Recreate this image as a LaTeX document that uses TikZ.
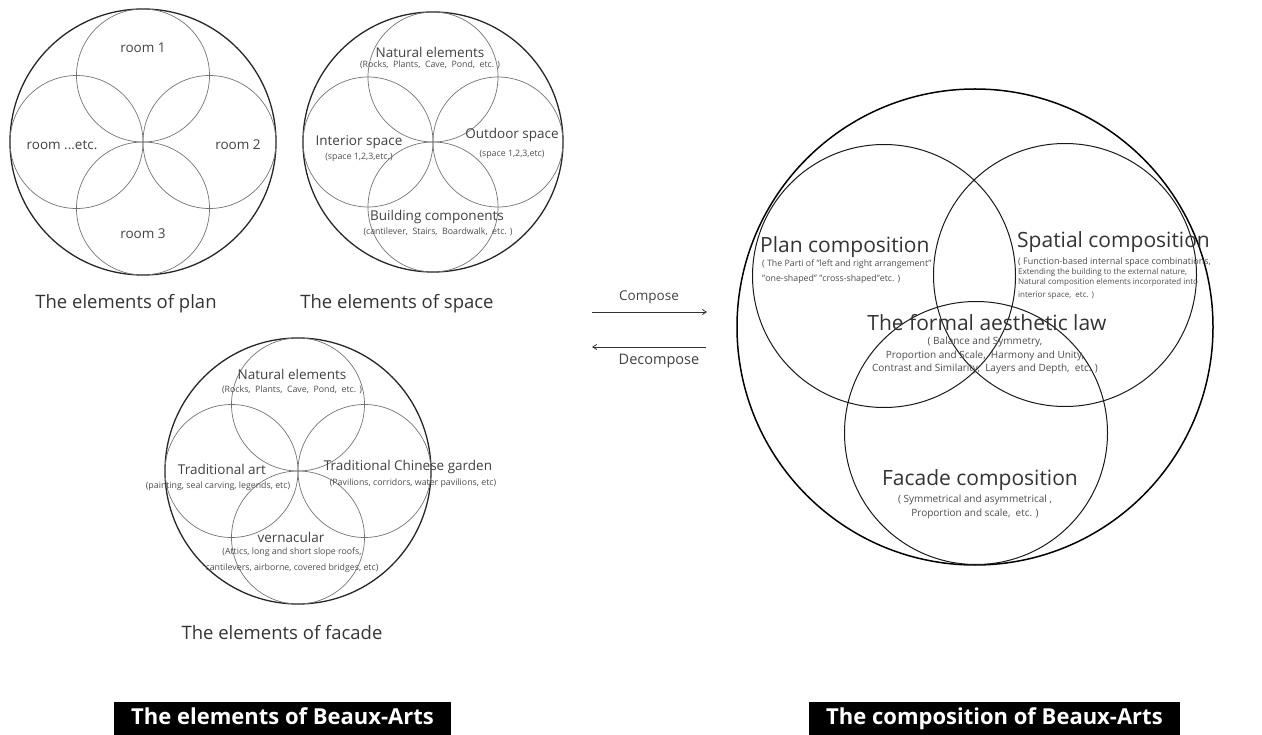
\documentclass[tikz,border=0pt]{standalone}
\usepackage{fontspec}
\setmainfont{Open Sans}
\usetikzlibrary{arrows.meta,calc}
\begin{document}
\begin{tikzpicture}[x=1pt,y=-1pt,
 outer/.style={draw=black!85, line width=1.3pt, circle, inner sep=0pt},
 inr/.style={draw=black!55, line width=0.7pt, circle, inner sep=0pt},
 bigc/.style={draw=black, line width=1.5pt, circle, inner sep=0pt, minimum size=476pt},
 comp/.style={draw=black!90, line width=1pt, circle, inner sep=0pt, minimum size=263pt},
 lbl/.style={font=\fontsize{13.5}{15}\selectfont, text=black!75, inner sep=0pt},
 sub/.style={font=\fontsize{8.8}{16}\selectfont, text=black!70, inner sep=0pt, align=center},
 grpcap/.style={font=\fontsize{18.5}{22}\selectfont, text=black!80, inner sep=0pt},
 head/.style={font=\fontsize{21}{24}\selectfont, text=black!80, inner sep=0pt},
 csub/.style={text=black!70, inner sep=0pt},
 arr/.style={draw=black!80, line width=0.8pt, -{Straight Barb[length=4pt,width=5pt]}},
 banner/.style={fill=black, text=white, font=\bfseries\fontsize{22}{24}\selectfont, inner xsep=17pt, inner ysep=0pt, text height=22pt, text depth=12pt, anchor=north west}
]
\useasboundingbox (0,0) rectangle (1262,735);
% ---- groups of four circles in a circle
\foreach \g/\x/\y/\R in {P/143/142/133, S/433/142/130, F/298/471/133}{
  \node[outer, minimum size=2*\R pt] (\g) at (\x,\y) {};
  \node[inr, minimum size=\R pt] (\g t) at (\x,\y-\R/2) {};
  \node[inr, minimum size=\R pt] (\g r) at (\x+\R/2,\y) {};
  \node[inr, minimum size=\R pt] (\g b) at (\x,\y+\R/2) {};
  \node[inr, minimum size=\R pt] (\g l) at (\x-\R/2,\y) {};
}
% plan labels
\node[lbl] (p1) at (143,48) {room 1};
\node[lbl] (p2) at (238,145) {room 2};
\node[lbl] (p3) at (143,234) {room 3};
\node[lbl] (p4) at (62,145) {room ...etc.};
\node[grpcap] (pc) at (126,304) {The elements of plan};
% space labels
\node[lbl] (s1) at (430,52) {Natural elements};
\node[sub] (s1s) at (430,65) {(Rocks,\ \ Plants,\ \ Cave,\ \ Pond,\ \ etc. )};
\node[lbl] (s2) at (359,142) {Interior space};
\node[sub] (s2s) at (359,157) {(space 1,2,3,etc.)};
\node[lbl] (s3) at (512,135) {Outdoor space};
\node[sub] (s3s) at (512,154) {(space 1,2,3,etc)};
\node[lbl] (s4) at (437,217) {Building components};
\node[sub] (s4s) at (438,232) {(cantilever,\ \ Stairs,\ \ Boardwalk,\ \ etc. )};
\node[grpcap] (sc) at (397,304) {The elements of space};
% facade labels
\node[lbl] (f1) at (292,374) {Natural elements};
\node[sub] (f1s) at (292,390) {(Rocks,\ \ Plants,\ \ Cave,\ \ Pond,\ \ etc. )};
\node[lbl] (f2) at (222,469) {Traditional art};
\node[sub] (f2s) at (218,486) {(painting, seal carving, legends, etc)};
\node[lbl] (f3) at (408,467) {Traditional Chinese garden};
\node[sub] (f3s) at (413,483) {(Pavilions, corridors, water pavilions, etc)};
\node[lbl] (f4) at (291,537) {vernacular};
\node[sub] (f4s) at (292,560) {(Attics, long and short slope roofs,\\cantilevers, airborne, covered bridges, etc)};
\node[grpcap] (fc) at (282,633) {The elements of facade};
% arrows
\coordinate (a1) at (592,312);
\coordinate (a2) at (707,312);
\coordinate (b1) at (706,347);
\coordinate (b2) at (592,347);
\draw[arr] (a1) -- (a2);
\draw[arr] (b1) -- (b2);
\node[lbl, font=\fontsize{13.5}{15}\selectfont] (cmp) at (649,297) {Compose};
\node[lbl, font=\fontsize{14.5}{16}\selectfont] (dcmp) at (659,361) {Decompose};
% composition
\node[bigc] (C) at (975,327) {};
\node[comp] (Cp) at (884,276) {};
\node[comp] (Cs) at (1065,275) {};
\node[comp] (Cf) at (976,433) {};
\node[head, anchor=west] (hp) at (760,247) {Plan composition};
\node[csub, anchor=north west, align=left, font=\fontsize{8.8}{15}\selectfont] (hps) at (762,260) {( The Parti of "left and right arrangement"\\"one-shaped" "cross-shaped"etc. )};
\node[head, anchor=west] (hs) at (1017,242) {Spatial composition};
\node[csub, anchor=north west, align=left, font=\fontsize{8}{10}\selectfont] (hss) at (1018,257) {{\fontsize{9}{10}\selectfont ( Function-based internal space combinations,}\\[0pt]Extending the building to the external nature,\\[0pt]Natural composition elements incorporated into\\[3pt]interior space,\ \ etc. )};
\node[head] (hl) at (987,323) {The formal aesthetic law};
\node[csub, align=center, anchor=north, font=\fontsize{10}{13.5}\selectfont] (hls) at (985,337) {( Balance and Symmetry,\\Proportion and Scale,\ \ Harmony and Unity,\\Contrast and Similarity,\ \ Layers and Depth,\ \ etc. )};
\node[head] (hf) at (980,480) {Facade composition};
\node[csub, align=center, anchor=north, font=\fontsize{10}{14}\selectfont] (hfs) at (975,495) {( Symmetrical and asymmetrical ,\\Proportion and scale,\ \ etc. )};
% banners
\node[banner] (bl) at (114,702) {The elements of Beaux-Arts};
\node[banner] (br) at (809,702) {The composition of Beaux-Arts};
\end{tikzpicture}
\end{document}
